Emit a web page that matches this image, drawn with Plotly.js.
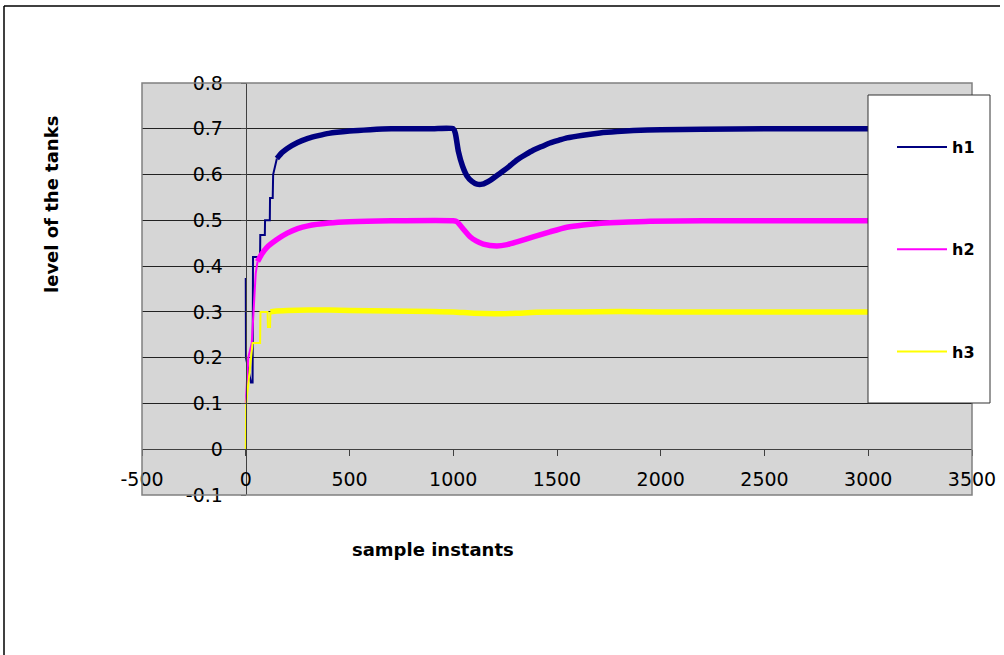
<!DOCTYPE html>
<html>
<head>
<meta charset="utf-8">
<script src="https://cdn.plot.ly/plotly-3.0.1.min.js"></script>
<style>html,body{margin:0;padding:0;background:#fff;}#chart{width:1004px;height:655px;}</style>
</head>
<body>
<div id="chart"></div>
<script>
// ---- data ----
const seriesNames = ["h1", "h2", "h3"];
const xTickVals = [-500, 0, 500, 1000, 1500, 2000, 2500, 3000, 3500];
const xTickText = ["-500", "0", "500", "1000", "1500", "2000", "2500", "3000", "3500"];
const yTickVals = [-0.1, 0, 0.1, 0.2, 0.3, 0.4, 0.5, 0.6, 0.7, 0.8];
const yTickText = ["-0.1", "0", "0.1", "0.2", "0.3", "0.4", "0.5", "0.6", "0.7", "0.8"];

// transient (start-up) parts
const h1StartT = [0, 1, 25, 33, 35, 69, 70, 92, 93, 116, 117, 130, 132, 150];
const h1Start  = [0.374, 0.2, 0.146, 0.146, 0.42, 0.42, 0.468, 0.468, 0.50, 0.50, 0.549, 0.549, 0.60, 0.635];
const h2StartT = [0, 12, 29, 41, 48, 57];
const h2Start  = [0.1, 0.2, 0.232, 0.348, 0.384, 0.41];
const h3StartT = [0, 2, 14, 25, 33, 69, 71, 105, 107, 117, 119];
const h3Start  = [0, 0.1, 0.15, 0.2, 0.232, 0.232, 0.30, 0.30, 0.267, 0.267, 0.30];

// noisy settled parts
const h1T = [150, 175, 200, 250, 300, 350, 400, 500, 600, 700, 800, 900, 1000, 1010, 1025, 1045, 1066, 1090, 1114, 1140, 1180, 1226, 1270, 1307, 1350, 1385, 1430, 1466, 1510, 1548, 1625, 1707, 1790, 1868, 2000, 2200, 2500, 2800, 3000];
const h1   = [0.635, 0.648, 0.657, 0.670, 0.679, 0.685, 0.690, 0.695, 0.698, 0.700, 0.700, 0.700, 0.700, 0.690, 0.650, 0.618, 0.597, 0.585, 0.579, 0.579, 0.588, 0.603, 0.618, 0.632, 0.644, 0.653, 0.662, 0.669, 0.675, 0.680, 0.686, 0.691, 0.694, 0.696, 0.698, 0.699, 0.700, 0.700, 0.700];
const h2T = [57, 75, 100, 150, 200, 250, 300, 400, 500, 700, 1000, 1018, 1050, 1081, 1110, 1145, 1210, 1260, 1307, 1385, 1466, 1548, 1626, 1700, 1788, 1948, 2200, 2500, 3000];
const h2   = [0.41, 0.425, 0.44, 0.458, 0.472, 0.482, 0.488, 0.494, 0.497, 0.499, 0.499, 0.497, 0.480, 0.464, 0.455, 0.448, 0.444, 0.447, 0.453, 0.464, 0.475, 0.485, 0.490, 0.493, 0.495, 0.498, 0.499, 0.499, 0.499];
const h3T = [119, 150, 200, 300, 400, 500, 700, 900, 1000, 1100, 1200, 1300, 1400, 1600, 1800, 2000, 2500, 3000];
const h3   = [0.30, 0.302, 0.303, 0.304, 0.304, 0.303, 0.302, 0.301, 0.300, 0.297, 0.296, 0.297, 0.299, 0.300, 0.301, 0.300, 0.300, 0.300];

const colors = ["#000080", "#ff00ff", "#ffff00"];

// ---- layout geometry (pixels -> paper) ----
const L = 142, R = 972, T = 83, B = 495;
const px = v => (v - L) / (R - L);
const py = v => (B - v) / (B - T);

const starts = [[h1StartT, h1Start], [h2StartT, h2Start], [h3StartT, h3Start]];
const mains = [[h1T, h1], [h2T, h2], [h3T, h3]];
const traces = [];
for (let i = 0; i < 3; i++) {
  traces.push({
    x: starts[i][0], y: starts[i][1], type: "scatter", mode: "lines",
    name: seriesNames[i], legendgroup: seriesNames[i], showlegend: true,
    line: {color: colors[i], width: 2}, hoverinfo: "skip"
  });
  traces.push({
    x: mains[i][0], y: mains[i][1], type: "scatter", mode: "lines",
    name: seriesNames[i], legendgroup: seriesNames[i], showlegend: false,
    line: {color: colors[i], width: 5.5, shape: "spline", smoothing: 0.6}, hoverinfo: "skip"
  });
}

const tickFont = {family: "DejaVu Sans", size: 19, color: "#000"};
const layout = {
  width: 1004, height: 655,
  paper_bgcolor: "#ffffff", plot_bgcolor: "#d6d6d6",
  margin: {l: L, r: 1004 - R, t: T, b: 655 - B, autoexpand: false},
  showlegend: true,
  xaxis: {
    range: [-500, 3500], tickvals: xTickVals, ticktext: xTickText,
    anchor: "free", position: (0 - (-0.1)) / 0.9,
    showline: true, linecolor: "#404040", linewidth: 1,
    ticks: "outside", ticklen: 6, tickcolor: "#404040",
    showgrid: false, zeroline: false, tickfont: tickFont, ticklabelstandoff: 7
  },
  yaxis: {
    range: [-0.1, 0.8], tickvals: yTickVals, ticktext: yTickText,
    anchor: "free", position: 0.125,
    showline: true, linecolor: "#404040", linewidth: 1,
    ticks: "outside", ticklen: 5, tickcolor: "#404040",
    showgrid: true, gridcolor: "#222222", gridwidth: 1,
    zeroline: false, tickfont: tickFont, ticklabelstandoff: 14
  },
  legend: {
    x: px(892), xanchor: "left", y: py(130), yanchor: "top",
    bgcolor: "rgba(0,0,0,0)", borderwidth: 0,
    font: {family: "DejaVu Sans", size: 16, color: "#000", weight: "bold"},
    tracegroupgap: 78.5, itemwidth: 50
  },
  shapes: [
    {type: "rect", xref: "paper", yref: "paper", x0: 0, x1: 1, y0: 0, y1: 1,
     line: {color: "#808080", width: 1.5}, fillcolor: "rgba(0,0,0,0)", layer: "above"},
    {type: "rect", xref: "paper", yref: "paper", x0: px(868), x1: px(990), y0: py(403), y1: py(95),
     line: {color: "#333333", width: 1}, fillcolor: "#ffffff", layer: "above"},
    {type: "line", xref: "paper", yref: "paper", x0: px(4), x1: px(4), y0: py(655), y1: py(6),
     line: {color: "#000", width: 1.5}},
    {type: "line", xref: "paper", yref: "paper", x0: px(4), x1: px(1000), y0: py(6), y1: py(6),
     line: {color: "#000", width: 1.5}}
  ],
  annotations: [
    {text: "sample instants", xref: "paper", yref: "paper", x: px(433), y: py(549),
     showarrow: false, xanchor: "center", yanchor: "middle",
     font: {family: "DejaVu Sans", size: 18, color: "#000", weight: "bold"}},
    {text: "level of the tanks", xref: "paper", yref: "paper", x: px(51), y: py(205),
     showarrow: false, xanchor: "center", yanchor: "middle", textangle: -90,
     font: {family: "DejaVu Sans", size: 18, color: "#000", weight: "bold"}}
  ]
};

Plotly.newPlot("chart", traces, layout, {displayModeBar: false, staticPlot: true});
</script>
</body>
</html>
